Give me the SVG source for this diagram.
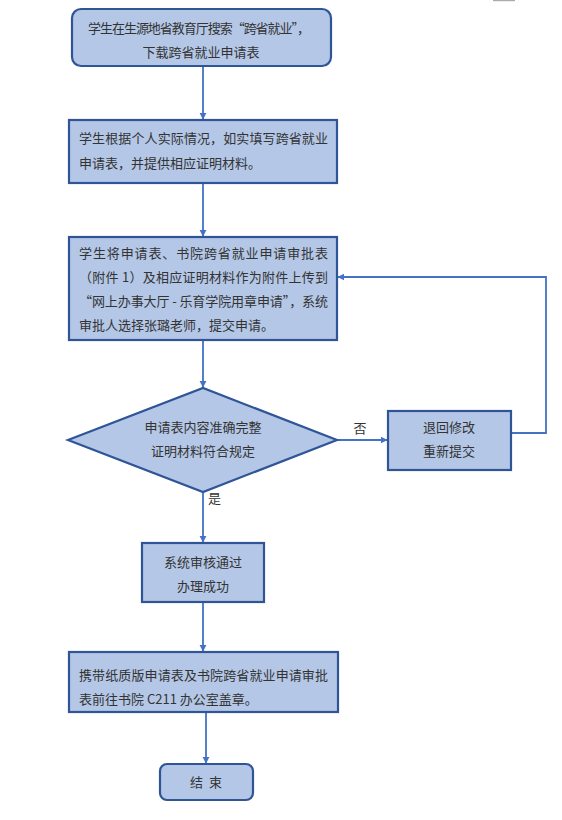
<svg xmlns="http://www.w3.org/2000/svg" width="562" height="820" viewBox="0 0 562 820">
<defs>
<marker id="ah" viewBox="0 0 10 10" refX="9" refY="5" markerWidth="4" markerHeight="4" orient="auto" markerUnits="strokeWidth">
<path d="M0,0 L10,5 L0,10 z" fill="#4472c4"/>
</marker>
<style>
.box{fill:#b4c7e7;stroke:#2f5597;stroke-width:2.2}
.t{font-family:"Noto Sans CJK SC","Liberation Sans",sans-serif;font-size:13px;fill:#333}
.c{text-anchor:middle}
.ln{fill:none;stroke:#4472c4;stroke-width:1.8;marker-end:url(#ah)}
</style>
</defs>
<rect width="562" height="820" fill="#fff"/>
<rect x="493" y="0" width="22" height="1.2" fill="#aaa"/>
<g id="connectors">
<line class="ln" x1="203" y1="66" x2="203" y2="119"/>
<line class="ln" x1="203" y1="183" x2="203" y2="236"/>
<line class="ln" x1="203" y1="340" x2="203" y2="387"/>
<line class="ln" x1="337" y1="440" x2="387" y2="440"/>
<polyline class="ln" points="511,433 546,433 546,277 338,277"/>
<line class="ln" x1="203" y1="492" x2="203" y2="542"/>
<line class="ln" x1="203" y1="602" x2="203" y2="651"/>
<line class="ln" x1="206" y1="712" x2="206" y2="763"/>
<text class="t c" x="360" y="433">否</text>
<text class="t" x="208" y="503">是</text>
</g>
<g id="n1">
<rect class="box" x="72" y="9" width="259" height="57" rx="9"/>
<text class="t" x="88" y="33" textLength="222">学生在生源地省教育厅搜索“跨省就业”，</text>
<text class="t c" x="201" y="57">下载跨省就业申请表</text>
</g>
<g id="n2">
<rect class="box" x="69" y="120" width="268" height="63"/>
<text class="t" x="79" y="143" textLength="249">学生根据个人实际情况，如实填写跨省就业</text>
<text class="t" x="79" y="168">申请表，并提供相应证明材料。</text>
</g>
<g id="n3">
<rect class="box" x="69" y="237" width="268" height="103"/>
<text class="t" x="79" y="258" textLength="249">学生将申请表、书院跨省就业申请审批表</text>
<text class="t" x="79" y="282" textLength="249">（附件 1）及相应证明材料作为附件上传到</text>
<text class="t" x="79" y="306" textLength="249">“网上办事大厅 - 乐育学院用章申请”，系统</text>
<text class="t" x="79" y="330">审批人选择张璐老师，提交申请。</text>
</g>
<g id="n4">
<polygon class="box" points="68,440 203,388 337,440 203,492"/>
<text class="t c" x="203" y="432">申请表内容准确完整</text>
<text class="t c" x="203" y="456">证明材料符合规定</text>
</g>
<g id="n5">
<rect class="box" x="388" y="411" width="123" height="59"/>
<text class="t c" x="449" y="432">退回修改</text>
<text class="t c" x="449" y="456">重新提交</text>
</g>
<g id="n6">
<rect class="box" x="142" y="543" width="122" height="59"/>
<text class="t c" x="203" y="567">系统审核通过</text>
<text class="t c" x="203" y="591">办理成功</text>
</g>
<g id="n7">
<rect class="box" x="69" y="652" width="269" height="60"/>
<text class="t" x="79" y="680" textLength="249">携带纸质版申请表及书院跨省就业申请审批</text>
<text class="t" x="79" y="704">表前往书院 C211 办公室盖章。</text>
</g>
<g id="n8">
<rect class="box" x="160" y="764" width="93" height="36" rx="7"/>
<text class="t" x="190" y="787" textLength="32">结 束</text>
</g>
</svg>
